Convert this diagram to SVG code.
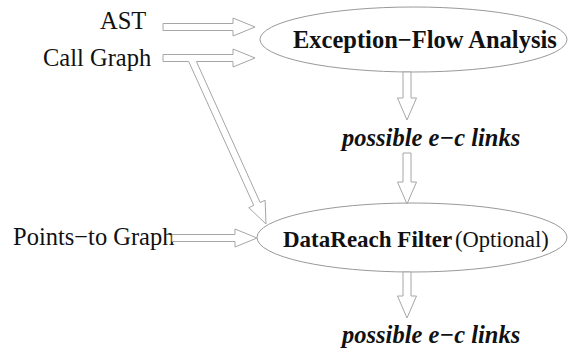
<svg xmlns="http://www.w3.org/2000/svg" width="568" height="354" viewBox="0 0 568 354">
  <style>
    text { font-family: "Liberation Serif", "Times New Roman", serif; fill: #111; }
    .in { font-size: 24.5px; }
    .title { font-size: 24.5px; font-weight: bold; }
    .title.small { font-size: 23px; }
    .opt { font-size: 22.5px; }
    .out { font-size: 24.5px; font-weight: bold; font-style: italic; }
    .node { fill: #fff; stroke: #999; stroke-width: 1; }
    .edge { fill: #fff; stroke: #a6a6a6; stroke-width: 1; stroke-linejoin: miter; }
  </style>
  <rect width="568" height="354" fill="#fff"/>

  <g id="ast"><text class="in" x="100" y="29">AST</text></g>
  <g id="callgraph"><text class="in" x="43" y="66">Call Graph</text></g>
  <g id="pointsto"><text class="in" x="13" y="245">Points−to Graph</text></g>

  <g id="efa">
    <ellipse class="node" cx="413.5" cy="39.5" rx="153.5" ry="32.5"/>
    <text class="title" x="293" y="48">Exception−Flow Analysis</text>
  </g>
  <g id="links1"><text class="out" x="342" y="146">possible e−c links</text></g>
  <g id="datareach">
    <ellipse class="node" cx="412" cy="237.5" rx="155" ry="34.5"/>
    <text class="title small" x="283" y="247">DataReach Filter</text>
    <text class="opt" x="455" y="247">(Optional)</text>
  </g>
  <g id="links2"><text class="out" x="342" y="343">possible e−c links</text></g>

  <g id="edges">
    <!-- AST to analysis -->
    <polygon class="edge" points="163,23.5 233,23.5 233,18 255,27 233,36 233,30.5 163,30.5"/>
    <!-- call graph: branch to analysis and to the filter -->
    <path class="edge" d="M196.4,61.5 L233,61.5 L233,67 L255,58 L233,49 L233,54.5 L163,54.5 L163,61.5 L188.7,61.5 L253.75,205.39 L248.74,207.66 L266,224 L265.14,200.25 L260.13,202.51 Z"/>
    <!-- points-to graph to filter -->
    <polygon class="edge" points="172,234.5 235,234.5 235,229 257,238 235,247 235,241.5 172,241.5"/>
    <!-- vertical flow -->
    <polygon class="edge" points="403,72 403,98 397.5,98 407,120 416.5,98 411,98 411,72"/>
    <polygon class="edge" points="403,153 403,182 397.5,182 407,204 416.5,182 411,182 411,153"/>
    <polygon class="edge" points="403,272 403,296 397.5,296 407,318 416.5,296 411,296 411,272"/>
  </g>
</svg>
